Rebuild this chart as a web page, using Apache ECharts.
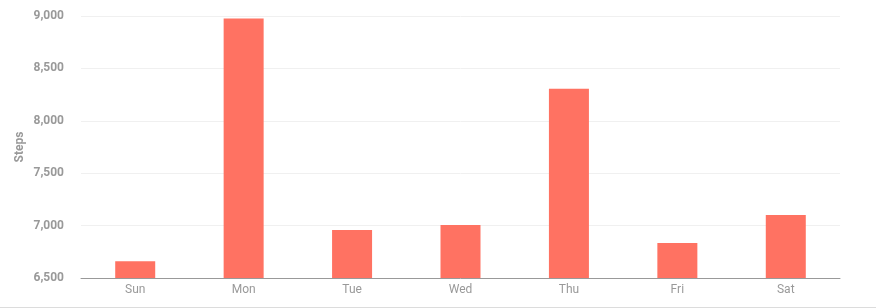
<!DOCTYPE html>
<html><head><meta charset="utf-8">
<script src="https://cdn.jsdelivr.net/npm/echarts@6/dist/echarts.min.js"></script>
<style>html,body{margin:0;padding:0;background:#fff}#c{width:876px;height:307px;border-bottom:1px solid #dcdcdc}</style>
</head><body><div id="c"></div>
<script>
const categories = ['Sun','Mon','Tue','Wed','Thu','Fri','Sat'];
const steps = [6660, 8975, 6958, 7006, 8305, 6834, 7101];
const yMin = 6500, yMax = 9000, yInterval = 500;
const chart = echarts.init(document.getElementById('c'));
chart.setOption({
  animation:false,
  grid:{left:81,right:36,top:16,bottom:29,containLabel:false},
  xAxis:{type:'category',data:categories,
    axisLine:{lineStyle:{color:'#999'}},axisTick:{show:false},
    axisLabel:{color:'#999',fontSize:12,fontFamily:'Roboto',margin:6}},
  yAxis:{type:'value',min:yMin,max:yMax,interval:yInterval,name:'Steps',nameLocation:'middle',nameGap:55,
    nameMoveOverlap:false,
    nameTextStyle:{color:'#999',fontSize:12,fontWeight:'bold',fontFamily:'Roboto'},
    axisLabel:{color:'#999',fontSize:12,fontWeight:'bold',fontFamily:'Roboto',margin:17,
      formatter:v=>v.toLocaleString('en-US')},
    axisLine:{show:false},axisTick:{show:false},
    splitLine:{lineStyle:{color:'#f0f0f0'}}},
  series:[{type:'bar',data:steps,barWidth:40,itemStyle:{color:'#ff7262'}}]
});
</script></body></html>
